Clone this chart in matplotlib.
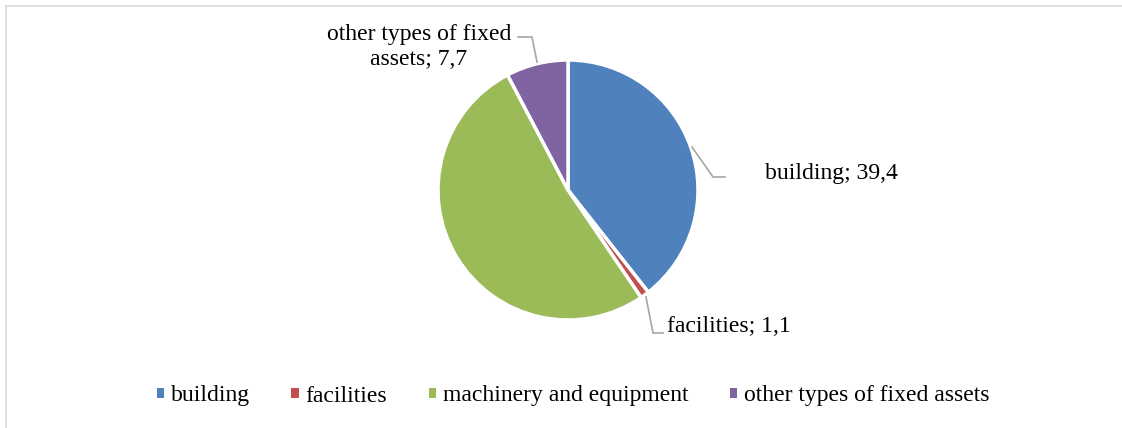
import matplotlib.pyplot as plt
from matplotlib.patches import Patch

categories = ['building', 'facilities', 'machinery and equipment', 'other types of fixed assets']
values = [39.4, 1.1, 51.8, 7.7]
colors = ['#4F81BD', '#C0504D', '#9BBB59', '#8064A2']
shown_labels = ['building; 39,4', 'facilities; 1,1', None, 'other types of fixed\nassets; 7,7']

plt.rcParams['font.family'] = ['Liberation Serif', 'DejaVu Serif']

W, H = 1122, 428
fig = plt.figure(figsize=(W / 100, H / 100), dpi=100)

# outer chart border (only top / left visible)
bc = '#D9D9D9'
fig.add_artist(plt.Line2D([6 / W, 1.0], [1 - 6 / H, 1 - 6 / H], color=bc, lw=1.2))
fig.add_artist(plt.Line2D([6 / W, 6 / W], [0, 1 - 6 / H], color=bc, lw=1.2))

cx, cy, r = 568, 190, 130
ax = fig.add_axes([(cx - r) / W, (H - cy - r) / H, 2 * r / W, 2 * r / H])
ax.pie(values, colors=colors, startangle=90, counterclock=False, radius=1,
       wedgeprops=dict(edgecolor='white', linewidth=2.5))
ax.set_xlim(-1, 1)
ax.set_ylim(-1, 1)
ax.set_aspect('equal')
ax.axis('off')


def px(x, y):
    # pixel coords (top-left origin) -> figure fraction
    return (x / W, 1 - y / H)


lc = '#A6A6A6'
fs = 17
# building
fig.add_artist(plt.Line2D([692 / W, 713 / W, 725 / W], [1 - 147 / H, 1 - 177 / H, 1 - 177 / H],
                          color=lc, lw=1.2))
fig.text(*px(765, 173), shown_labels[0], fontsize=fs, va='center', ha='left')
# facilities
fig.add_artist(plt.Line2D([646 / W, 653 / W, 663 / W], [1 - 297 / H, 1 - 333 / H, 1 - 333 / H],
                          color=lc, lw=1.2))
fig.text(*px(667, 327), shown_labels[1], fontsize=fs, va='center', ha='left')
# other types
fig.add_artist(plt.Line2D([518 / W, 532 / W, 537 / W], [1 - 37 / H, 1 - 37 / H, 1 - 62 / H],
                          color=lc, lw=1.2))
fig.text(*px(419, 47), shown_labels[3], fontsize=fs, va='center', ha='center',
         multialignment='center', linespacing=1.3)

handles = [Patch(facecolor=c, edgecolor='none') for c in colors]
fig.legend(handles, categories, loc='center', bbox_to_anchor=(573 / W, 1 - 396 / H),
           ncol=4, frameon=False, fontsize=fs, handlelength=0.3, handleheight=0.3,
           handletextpad=0.3, columnspacing=1.75)

fig.savefig('out.png', dpi=100)
